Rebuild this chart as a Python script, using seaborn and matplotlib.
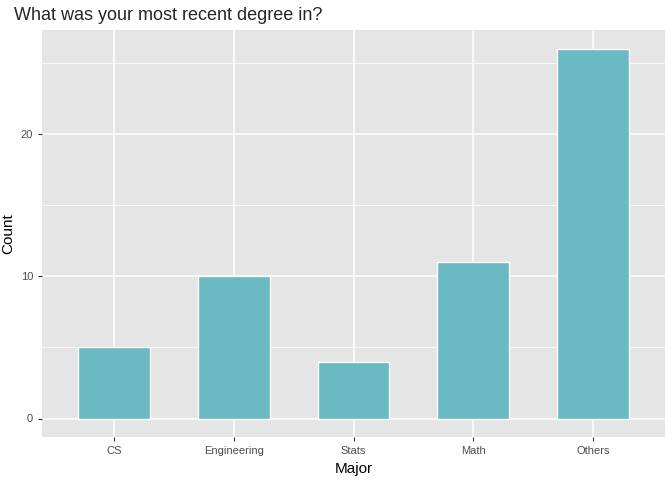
import pandas as pd
import seaborn as sns
import matplotlib
matplotlib.use("Agg")
import matplotlib.pyplot as plt

majors = ["CS", "Engineering", "Stats", "Math", "Others"]
counts = [5, 10, 4, 11, 26]

df = pd.DataFrame({"Major": majors, "Count": counts})

sns.set_theme(style="darkgrid", rc={"axes.facecolor": "#E5E5E5", "grid.color": "white"})
plt.rcParams['font.family'] = ['Liberation Sans', 'DejaVu Sans']

fig = plt.figure(figsize=(6.72, 4.8), dpi=100)
ax = fig.add_axes([42/672, 43/480, 623/672, 407/480])
sns.barplot(data=df, x="Major", y="Count", color="#6BB9C3", width=0.6, saturation=1, ax=ax)

ax.set_ylim(-1.3, 27.3)
ax.set_xlim(-0.6, 4.6)
ax.set_yticks([0, 10, 20])
ax.set_yticks([5, 15, 25], minor=True)
ax.grid(which="major", color="white", linewidth=1.1)
ax.grid(which="minor", color="white", linewidth=0.5)
ax.set_axisbelow(True)
for s in ax.spines.values():
    s.set_visible(False)
ax.tick_params(axis="both", which="major", labelsize=8, colors="#4D4D4D", length=3, width=0.8,
               left=True, bottom=True, color="#333333")
ax.tick_params(which="minor", length=0)
ax.set_xlabel("Major", fontsize=11, color="black")
ax.set_ylabel("Count", fontsize=11, color="black")
ax.set_title("What was your most recent degree in?", loc="left", fontsize=13, x=-0.045, pad=7)

fig.savefig("out.png", dpi=100)
